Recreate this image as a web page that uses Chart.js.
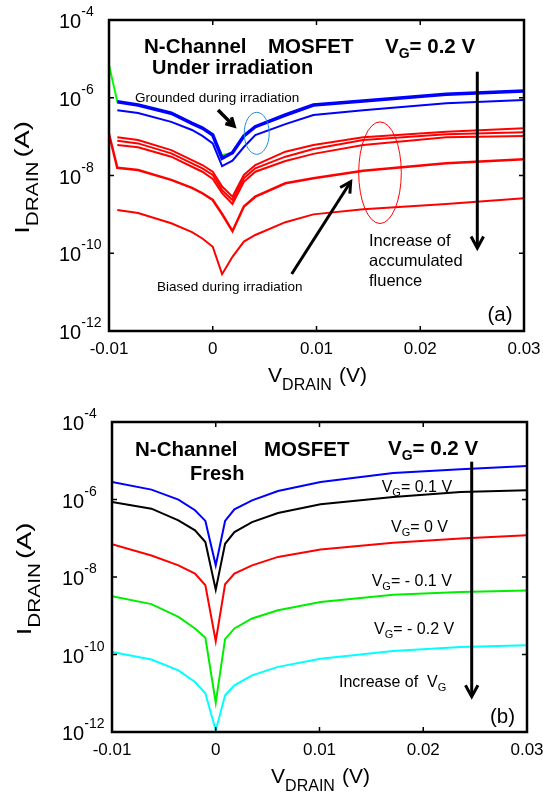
<!DOCTYPE html>
<html lang="en">
<head>
<meta charset="UTF-8">
<title>N-Channel MOSFET drain current</title>
<script src="https://cdn.jsdelivr.net/npm/chart.js"></script>
<style>
    html, body { margin: 0; padding: 0; background: #fff; }
    #wrap { position: relative; width: 543px; height: 796px; }
    .panel { position: absolute; left: 0; width: 543px; height: 398px; }
    #panelA { top: 0; }
    #panelB { top: 398px; }
</style>
</head>
<body>
<div id="wrap">
    <div class="panel" id="panelA"><canvas id="chartA"></canvas></div>
    <div class="panel" id="panelB"><canvas id="chartB"></canvas></div>
</div>

<script>
// axis ticks (both panels)
const xTicks = [-0.01, 0, 0.01, 0.02, 0.03];
const yTickExp = [-4, -6, -8, -10, -12];

// (a) under irradiation, V_G = 0.2 V
const vDrainA = [-0.01, -0.0092, -0.0072, -0.004, -0.002, -0.001, 0, 0.0009, 0.0019, 0.003, 0.0041, 0.007, 0.0097, 0.0145, 0.0225, 0.03];
const greenA     = [7e-6, 7.9e-7, 6.5e-7, 4.0e-7, 2.2e-7, 1.66e-7, 1.1e-7, 3.3e-8, 3.86e-8, 1.04e-7, 1.8e-7, 3.6e-7, 6.5e-7, 8.2e-7, 1.23e-6, 1.49e-6];
const grounded1A = [null, 7.9e-7, 6.5e-7, 4.0e-7, 2.2e-7, 1.66e-7, 1.1e-7, 2.77e-8, 3.86e-8, 1.04e-7, 1.8e-7, 3.6e-7, 6.5e-7, 8.2e-7, 1.23e-6, 1.49e-6];
const grounded2A = [null, 4.8e-7, 4.05e-7, 2.4e-7, 1.48e-7, 1.04e-7, 6.7e-8, 1.75e-8, 2.4e-8, 5.4e-8, 1.1e-7, 2.1e-7, 3.6e-7, 4.8e-7, 7.2e-7, 8.7e-7];
const biased1A   = [null, 9.6e-8, 8.2e-8, 4.5e-8, 2.5e-8, 1.86e-8, 1.25e-8, 5.2e-9, 2.85e-9, 1.03e-8, 1.86e-8, 4.1e-8, 6.1e-8, 9.6e-8, 1.34e-7, 1.64e-7];
const biased2A   = [null, 7.85e-8, 6.7e-8, 3.7e-8, 2.06e-8, 1.53e-8, 1.03e-8, 4.2e-9, 2.34e-9, 8.5e-9, 1.53e-8, 3.05e-8, 4.8e-8, 8.2e-8, 1.15e-7, 1.29e-7];
const biased3A   = [null, 6.1e-8, 5.3e-8, 3.05e-8, 1.68e-8, 1.25e-8, 8.1e-9, 3.5e-9, 1.85e-9, 6.9e-9, 1.25e-8, 2.36e-8, 3.6e-8, 6.1e-8, 9.6e-8, 1.04e-7];
const biased4A   = [1.17e-7, 1.58e-8, 1.38e-8, 7.7e-9, 4.8e-9, 3.5e-9, 2.34e-9, 1.02e-9, 3.7e-10, 1.6e-9, 2.85e-9, 6.3e-9, 8.5e-9, 1.33e-8, 2.06e-8, 2.6e-8];
const biased5A   = [null, 1.3e-9, 1.08e-9, 5.9e-10, 3.5e-10, 2.4e-10, 1.47e-10, 2.9e-11, 8.1e-11, 2.0e-10, 2.95e-10, 6.3e-10, 1.0e-9, 1.35e-9, 1.85e-9, 2.6e-9];

// (b) fresh device, several V_G
const vDrainB = [-0.01, -0.0062, -0.0036, -0.002, -0.001, 0, 0.0009, 0.0018, 0.0035, 0.006, 0.0101, 0.0171, 0.0236, 0.03];
const vg02B  = [2.83e-6, 1.8e-6, 9.9e-7, 5.3e-7, 2.8e-7, 2.0e-8, 2.8e-7, 5.6e-7, 9.5e-7, 1.66e-6, 2.83e-6, 4.8e-6, 6.0e-6, 7.3e-6];
const vg01B  = [8.6e-7, 5.8e-7, 2.9e-7, 1.6e-7, 8.0e-8, 4.7e-9, 7.2e-8, 1.44e-7, 2.6e-7, 4.5e-7, 7.5e-7, 1.16e-6, 1.56e-6, 1.73e-6];
const vg0B   = [7.0e-8, 3.6e-8, 2.0e-8, 1.22e-8, 6.1e-9, 2.2e-10, 6.5e-9, 1.22e-8, 2.0e-8, 3.3e-8, 5.1e-8, 7.7e-8, 9.8e-8, 1.19e-7];
const vgm01B = [3.2e-9, 2.0e-9, 9.3e-10, 4.7e-10, 2.7e-10, 5.7e-12, 2.5e-10, 4.7e-10, 8.5e-10, 1.38e-9, 2.26e-9, 3.5e-9, 4.1e-9, 4.5e-9];
const vgm02B = [1.16e-10, 7.4e-11, 3.9e-11, 1.95e-11, 1.0e-11, 1.1e-12, 8.9e-12, 1.6e-11, 2.9e-11, 4.8e-11, 7.8e-11, 1.23e-10, 1.56e-10, 1.73e-10];

const FONT = '"Liberation Sans", Arial, Helvetica, sans-serif';

function pts(xs, ys) {
    return xs.map((v, i) => ({ x: v, y: ys[i] }));
}

function series(xs, ys, color, width) {
    return { data: pts(xs, ys), borderColor: color, borderWidth: width, pointRadius: 0, tension: 0, fill: false };
}

// text made of pieces with different size / baseline shift (for sub and superscripts)
function font(p) {
    return (p.bold ? 'bold ' : '') + p.size + 'px ' + FONT;
}
function richWidth(ctx, parts) {
    let w = 0;
    parts.forEach(p => { ctx.font = font(p); w += ctx.measureText(p.t).width + (p.gap || 0); });
    return w;
}
function drawRich(ctx, x, y, parts, align) {
    const w = richWidth(ctx, parts);
    let cx = align === 'center' ? x - w / 2 : (align === 'right' ? x - w : x);
    ctx.textAlign = 'left';
    ctx.textBaseline = 'alphabetic';
    parts.forEach(p => {
        ctx.font = font(p);
        ctx.fillText(p.t, cx, y + (p.dy || 0));
        cx += ctx.measureText(p.t).width + (p.gap || 0);
    });
}

function line(ctx, x1, y1, x2, y2) {
    ctx.beginPath();
    ctx.moveTo(x1, y1);
    ctx.lineTo(x2, y2);
    ctx.stroke();
}

function arrow(ctx, x1, y1, x2, y2, width, head) {
    const ang = Math.atan2(y2 - y1, x2 - x1);
    ctx.save();
    ctx.strokeStyle = '#000';
    ctx.lineWidth = width;
    ctx.lineCap = 'butt';
    line(ctx, x1, y1, x2 - Math.cos(ang) * 1.5, y2 - Math.sin(ang) * 1.5);
    ctx.lineJoin = 'miter';
    ctx.beginPath();
    ctx.moveTo(x2 - head * Math.cos(ang - 0.5), y2 - head * Math.sin(ang - 0.5));
    ctx.lineTo(x2, y2);
    ctx.lineTo(x2 - head * Math.cos(ang + 0.5), y2 - head * Math.sin(ang + 0.5));
    ctx.stroke();
    ctx.restore();
}

function ellipse(ctx, cx, cy, rx, ry, color) {
    ctx.save();
    ctx.strokeStyle = color;
    ctx.lineWidth = 1;
    ctx.beginPath();
    ctx.ellipse(cx, cy, rx, ry, 0, 0, Math.PI * 2);
    ctx.stroke();
    ctx.restore();
}

// frame, inward ticks, tick labels and axis titles
function drawAxes(chart, xTitleY, yTitleX) {
    const { ctx, chartArea: a, scales: { x, y } } = chart;
    ctx.save();
    ctx.strokeStyle = '#000';
    ctx.fillStyle = '#000';
    ctx.lineWidth = 1.5;
    xTicks.forEach(v => {
        const px = x.getPixelForValue(v);
        line(ctx, px, a.bottom, px, a.bottom - 5);
        line(ctx, px, a.top, px, a.top + 5);
    });
    yTickExp.forEach(e => {
        const py = y.getPixelForValue(Math.pow(10, e));
        line(ctx, a.left, py, a.left + 5, py);
        line(ctx, a.right, py, a.right - 5, py);
    });
    ctx.lineWidth = 2.5;
    ctx.strokeRect(a.left, a.top, a.right - a.left, a.bottom - a.top);

    ctx.font = '17px ' + FONT;
    ctx.textAlign = 'center';
    ctx.textBaseline = 'alphabetic';
    xTicks.forEach(v => {
        ctx.fillText(String(v), x.getPixelForValue(v), a.bottom + 23);
    });
    yTickExp.forEach(e => {
        const py = y.getPixelForValue(Math.pow(10, e));
        drawRich(ctx, a.left - 50, py + 8, [
            { t: '10', size: 20 },
            { t: String(e), size: 14, dy: -12 }
        ], 'left');
    });

    // x title
    drawRich(ctx, (a.left + a.right) / 2 + 1, xTitleY, [
        { t: 'V', size: 21 },
        { t: 'DRAIN', size: 16, dy: 8, gap: 7 },
        { t: '(V)', size: 21 }
    ], 'center');

    // y title, rotated and a bit stretched along its length
    ctx.save();
    ctx.translate(yTitleX, (a.top + a.bottom) / 2 + 2);
    ctx.rotate(-Math.PI / 2);
    ctx.scale(1.3, 1);
    drawRich(ctx, 0, 0, [
        { t: 'I', size: 21 },
        { t: 'DRAIN', size: 16, dy: 9, gap: 3 },
        { t: '(A)', size: 21 }
    ], 'center');
    ctx.restore();
    ctx.restore();
}

function vg(x, y, ctx, rest, size, bold) {
    drawRich(ctx, x, y, [
        { t: 'V', size: size, bold: bold },
        { t: 'G', size: Math.round(size * 0.7), bold: bold, dy: size * 0.25 },
        { t: rest, size: size, bold: bold }
    ], 'left');
}

const decorA = {
    id: 'decorA',
    afterDatasetsDraw(chart) {
        const ctx = chart.ctx;
        ellipse(ctx, 256.7, 133.3, 12.5, 21, '#1b8fdc');
        ellipse(ctx, 380, 172.7, 21.3, 50.8, '#ff0000');
        arrow(ctx, 218, 110, 234, 126, 3.5, 9);
        arrow(ctx, 291.7, 274, 350.7, 181.7, 3, 12);
        arrow(ctx, 477.3, 71.7, 477.3, 248, 3, 13);
        drawAxes(chart, 382, 29);

        ctx.save();
        ctx.fillStyle = '#000';
        drawRich(ctx, 144, 53, [{ t: 'N-Channel', size: 20.5, bold: true }], 'left');
        drawRich(ctx, 268, 53, [{ t: 'MOSFET', size: 20.5, bold: true }], 'left');
        drawRich(ctx, 152, 74, [{ t: 'Under irradiation', size: 20, bold: true }], 'left');
        vg(385, 53, ctx, '= 0.2 V', 20.5, true);
        drawRich(ctx, 135, 102, [{ t: 'Grounded during irradiation', size: 13.5 }], 'left');
        drawRich(ctx, 157, 291, [{ t: 'Biased during irradiation', size: 13.5 }], 'left');
        drawRich(ctx, 369, 246, [{ t: 'Increase of', size: 16.5 }], 'left');
        drawRich(ctx, 369, 266, [{ t: 'accumulated', size: 16.5 }], 'left');
        drawRich(ctx, 369, 286, [{ t: 'fluence', size: 16.5 }], 'left');
        drawRich(ctx, 487.5, 321, [{ t: '(a)', size: 20.5 }], 'left');
        ctx.restore();
    }
};

const decorB = {
    id: 'decorB',
    afterDatasetsDraw(chart) {
        const ctx = chart.ctx;
        arrow(ctx, 471.7, 63.7, 471.7, 298.7, 3, 13);
        drawAxes(chart, 385, 31);

        ctx.save();
        ctx.fillStyle = '#000';
        drawRich(ctx, 135, 58, [{ t: 'N-Channel', size: 20.5, bold: true }], 'left');
        drawRich(ctx, 264, 58, [{ t: 'MOSFET', size: 20.5, bold: true }], 'left');
        drawRich(ctx, 190, 82, [{ t: 'Fresh', size: 20, bold: true }], 'left');
        vg(388, 57, ctx, '= 0.2 V', 20.5, true);
        vg(381.7, 94, ctx, '= 0.1 V', 16, false);
        vg(391, 133.7, ctx, '= 0 V', 16, false);
        vg(371.7, 188, ctx, '= - 0.1 V', 16, false);
        vg(374, 236, ctx, '= - 0.2 V', 16, false);
        drawRich(ctx, 339, 288.7, [
            { t: 'Increase of  V', size: 16 },
            { t: 'G', size: 11, dy: 4 }
        ], 'left');
        drawRich(ctx, 490, 325, [{ t: '(b)', size: 20.5 }], 'left');
        ctx.restore();
    }
};

function options(pad) {
    return {
        responsive: true,
        maintainAspectRatio: false,
        animation: false,
        events: [],
        layout: { padding: pad },
        plugins: { legend: { display: false }, tooltip: { enabled: false } },
        scales: {
            x: { type: 'linear', min: -0.01, max: 0.03, display: false },
            y: { type: 'logarithmic', min: 1e-12, max: 1e-4, display: false }
        }
    };
}

// Chart.js paints the first dataset on top, so the thick blue curve comes first and green last
new Chart(document.getElementById('chartA'), {
    type: 'line',
    data: {
        datasets: [
            series(vDrainA, grounded1A, '#0000ff', 3.5),
            series(vDrainA, grounded2A, '#0000ff', 2),
            series(vDrainA, biased1A, '#ff0000', 2),
            series(vDrainA, biased2A, '#ff0000', 2),
            series(vDrainA, biased3A, '#ff0000', 2),
            series(vDrainA, biased4A, '#ff0000', 2.5),
            series(vDrainA, biased5A, '#ff0000', 2),
            series(vDrainA, greenA, '#00ff00', 2)
        ]
    },
    options: options({ left: 109, right: 19, top: 20, bottom: 67 }),
    plugins: [decorA]
});

new Chart(document.getElementById('chartB'), {
    type: 'line',
    data: {
        datasets: [
            series(vDrainB, vg02B, '#0000ff', 2),
            series(vDrainB, vg01B, '#000000', 2),
            series(vDrainB, vg0B, '#ff0000', 2),
            series(vDrainB, vgm01B, '#00ee00', 2),
            series(vDrainB, vgm02B, '#00ffff', 2)
        ]
    },
    options: options({ left: 112, right: 16, top: 24, bottom: 64 }),
    plugins: [decorB]
});
</script>
</body>
</html>
